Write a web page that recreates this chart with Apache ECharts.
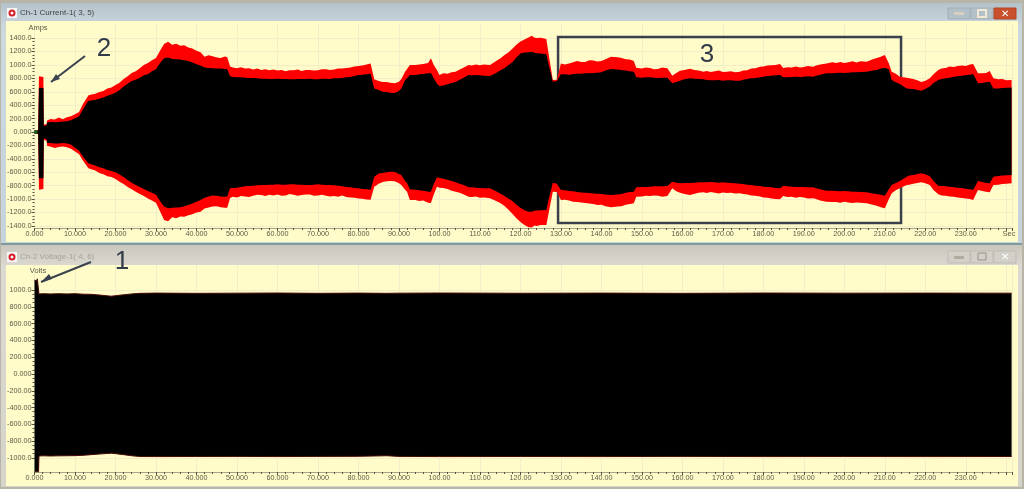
<!DOCTYPE html>
<html>
<head>
<meta charset="utf-8">
<title>Ch-1 Current / Ch-2 Voltage</title>
<script src="https://cdn.jsdelivr.net/npm/echarts@6/dist/echarts.min.js"></script>
<style>
html, body { margin: 0; padding: 0; background: #b9b5a6; }
#main { width: 1024px; height: 489px; }
</style>
</head>
<body>
<div id="main"></div>
<script>
// every line of the four current arrays lines up with the same line of currentTime
var currentTime = [
    0,0.9,1.0,1.1,1.5,2.2,2.3,3,3.1,4,
    5,6,7,8,9,10,11,12,13.3,14,
    15,16,17,18,19,20,21,22,23,24,
    25,26,27,28,29,30,31,32,33,34,
    35,36,37,38,39,40,41,42,43,44,
    45,46,47,47.6,48.3,49,50,51,52,53,
    54,55,56,57,58,59,60,61,62,63,
    64,65,66,67,68,69,70,71,72,73,
    74,75,76,77,78,79,80,81,82,83,
    83.3,83.9,85,86,87,87.8,89,90,90.6,91.5,
    92,92.7,94,95,96,97.2,97.9,98.6,99.4,100,
    101,102,103,104,105,106,107.2,108,109,110,
    111,112.5,114,115,116,117,118,119,120,121,
    122,122.8,123.5,124,125,126.4,127,128,129,130,
    131,132,133,134,135,136,137,138,139,140,
    141,142.4,144,145,146,147,148,148.6,150,151,
    152,153,154,155,156.3,157.5,158.5,159.4,160.5,161.9,
    163,164,165.2,166,167,168,169,170,171,172,
    173,174.2,175,176,177,178,179.2,180,181,182,
    183,184.1,184.9,186,187,188,189,190,191,192.3,
    193,194,195.6,197,198,199,200,201,202,203,
    204,205.5,207,208,209,210,211,211.7,212.7,213.7,
    215.4,216,217,218,219,220,221.1,222,223.2,224,
    225,226,227,228,229,230,231,231.8,233,234,
    235,235.9,236.8,238,239,240,241.3];
var currentRedUpper = [
    30,25,25,830,840,820,110,115,170,195,
    185,215,190,220,235,265,300,420,545,560,
    570,595,610,650,665,700,735,790,830,880,
    905,950,1000,1030,1070,1105,1210,1310,1345,1300,
    1315,1285,1295,1260,1245,1210,1190,1120,1145,1130,
    1110,1105,1125,1115,975,960,950,965,945,950,
    930,945,925,935,920,930,915,925,905,920,
    920,930,910,925,925,915,920,935,935,925,
    930,945,945,955,960,975,985,990,1005,1020,
    1025,785,760,745,745,735,725,750,790,900,
    940,1000,1000,1005,1015,1030,1098,1000,924,850,
    875,870,890,900,930,960,1000,990,1005,995,
    1005,1000,1060,1095,1145,1185,1240,1300,1350,1380,
    1410,1435,1405,1400,1405,1385,1150,775,780,1023,
    1005,1020,1040,1060,1045,1045,1070,1065,1050,1060,
    1085,1122,1115,1105,1085,1080,1060,958,945,960,
    955,935,940,960,950,840,880,914,925,944,
    925,915,900,910,895,905,915,895,900,905,
    890,900,915,920,945,950,974,975,990,995,
    1000,1013,954,965,960,975,960,970,985,974,
    990,1005,1023,1040,1030,1045,1030,1040,1055,1035,
    1055,1048,1085,1105,1120,1147,1023,900,870,825,
    810,800,790,770,745,765,800,860,924,945,
    955,975,970,985,990,985,1005,1013,874,875,
    880,909,800,785,790,770,775];
var currentBlackUpper = [
    25,20,20,660,665,655,90,100,140,150,
    145,150,155,160,175,205,235,340,465,470,
    480,495,515,540,560,585,625,680,720,760,
    780,810,845,860,905,935,1030,1100,1110,1090,
    1085,1080,1070,1060,1035,1010,990,960,955,950,
    945,945,940,935,830,820,815,815,810,805,
    805,800,795,795,790,790,795,790,790,785,
    785,790,790,790,795,785,785,795,795,790,
    800,800,805,815,820,835,850,855,860,870,
    875,650,625,600,595,586,580,610,650,770,
    800,850,850,860,865,875,880,800,720,686,
    695,710,730,745,780,810,850,845,850,845,
    840,835,880,915,950,995,1040,1110,1170,1185,
    1190,1195,1180,1175,1170,1160,1000,750,760,860,
    860,855,865,870,870,875,875,880,885,890,
    915,940,930,925,915,905,899,815,810,815,
    815,810,805,810,810,726,745,765,785,800,
    795,790,785,775,770,770,775,765,770,770,
    765,765,780,790,800,805,815,825,835,840,
    845,850,815,815,820,825,820,825,830,825,
    840,855,874,875,880,885,880,885,890,890,
    895,900,915,925,945,958,930,775,740,716,
    650,645,640,625,616,640,680,730,775,790,
    800,810,825,830,840,845,855,864,725,730,
    740,750,650,650,655,660,665];
var currentRedLower = [
    -30,-28,-28,-860,-870,-850,-120,-130,-205,-220,
    -240,-225,-215,-228,-250,-290,-330,-430,-540,-555,
    -575,-610,-630,-660,-670,-700,-740,-775,-820,-855,
    -890,-925,-955,-990,-1020,-1055,-1180,-1310,-1330,-1270,
    -1285,-1260,-1265,-1240,-1225,-1200,-1187,-1140,-1125,-1110,
    -1105,-1120,-1130,-1128,-985,-965,-975,-955,-960,-970,
    -950,-935,-940,-955,-935,-945,-930,-950,-945,-925,
    -935,-950,-940,-930,-930,-950,-945,-935,-950,-960,
    -955,-965,-945,-970,-975,-980,-990,-995,-1005,-1010,
    -1013,-815,-770,-745,-735,-730,-735,-765,-790,-860,
    -890,-1013,-1015,-1030,-1020,-1053,-1060,-930,-815,-830,
    -835,-850,-875,-890,-905,-930,-964,-970,-960,-980,
    -975,-988,-1030,-1060,-1100,-1155,-1220,-1285,-1340,-1385,
    -1420,-1425,-1395,-1400,-1385,-1386,-1200,-889,-895,-1013,
    -1010,-1020,-1040,-1045,-1050,-1060,-1065,-1075,-1090,-1085,
    -1105,-1122,-1110,-1105,-1085,-1075,-1063,-964,-960,-950,
    -955,-945,-950,-965,-954,-840,-885,-904,-925,-939,
    -920,-905,-899,-910,-895,-905,-915,-900,-910,-905,
    -915,-914,-925,-930,-945,-950,-960,-975,-980,-990,
    -1000,-1003,-954,-970,-965,-980,-970,-975,-990,-988,
    -1000,-1020,-1038,-1045,-1045,-1055,-1040,-1050,-1060,-1050,
    -1055,-1063,-1085,-1100,-1120,-1137,-1000,-914,-870,-840,
    -790,-785,-770,-760,-750,-765,-790,-865,-929,-945,
    -950,-960,-965,-975,-985,-990,-1000,-1013,-864,-880,
    -890,-899,-790,-785,-775,-770,-765];
var currentBlackLower = [
    -25,-22,-22,-690,-700,-690,-95,-105,-165,-165,
    -170,-170,-165,-170,-185,-235,-280,-370,-465,-480,
    -500,-525,-540,-565,-580,-600,-635,-670,-715,-755,
    -790,-820,-850,-880,-905,-935,-1030,-1110,-1135,-1130,
    -1125,-1120,-1105,-1090,-1065,-1040,-1013,-980,-960,-945,
    -950,-960,-965,-960,-840,-835,-830,-820,-810,-805,
    -800,-795,-790,-790,-785,-785,-780,-785,-785,-780,
    -780,-785,-785,-790,-790,-785,-780,-785,-790,-790,
    -795,-800,-810,-820,-825,-835,-840,-850,-855,-860,
    -864,-666,-620,-610,-600,-591,-595,-625,-641,-730,
    -760,-854,-860,-870,-875,-889,-889,-770,-675,-685,
    -695,-710,-730,-750,-770,-790,-825,-825,-830,-835,
    -840,-840,-885,-915,-950,-990,-1030,-1085,-1130,-1165,
    -1187,-1187,-1175,-1170,-1165,-1162,-1000,-755,-770,-864,
    -870,-880,-885,-895,-900,-905,-910,-915,-920,-925,
    -930,-939,-930,-925,-905,-895,-889,-825,-820,-820,
    -815,-810,-810,-810,-805,-740,-755,-765,-760,-760,
    -755,-750,-750,-750,-745,-750,-755,-750,-755,-760,
    -765,-770,-775,-785,-790,-800,-805,-815,-820,-825,
    -835,-840,-805,-810,-815,-820,-820,-820,-825,-825,
    -840,-855,-874,-875,-880,-885,-880,-885,-890,-890,
    -895,-899,-915,-925,-935,-949,-850,-790,-760,-730,
    -666,-650,-640,-625,-616,-630,-660,-730,-800,-805,
    -810,-815,-825,-830,-835,-845,-855,-864,-730,-745,
    -760,-765,-666,-655,-650,-645,-641];

var voltageTime = [0,0.3,0.5,0.7,1.0,1.1,2,4,6,8,10,12,14,16,18,19,20,22,24,26,30,40,50,60,70,80,87,90,100,120,140,160,180,200,220,241.3];
var voltageUpper = [1120,1140,1110,1135,1125,955,958,955,958,955,958,952,950,942,932,928,934,945,955,962,965,962,964,966,962,965,962,964,966,963,965,962,966,964,965,964];
var voltageLower = [-1167,-1167,-1167,-1167,-1167,-978,-976,-978,-976,-975,-974,-970,-962,-955,-948,-945,-950,-962,-975,-984,-985,-984,-983,-985,-983,-982,-975,-983,-985,-984,-985,-983,-985,-984,-985,-984];

var currentTicks = [-1400,-1200,-1000,-800,-600,-400,-200,0,200,400,600,800,1000,1200,1400];
var voltageTicks = [-1000,-800,-600,-400,-200,0,200,400,600,800,1000];
var currentSmallTicks = [];
var voltageSmallTicks = [];
for (var v = -1400; v <= 1400; v += 50) currentSmallTicks.push(v);
for (var w = -1000; w <= 1000; w += 50) voltageSmallTicks.push(w);

var uiFont = '"Liberation Sans", Arial, sans-serif';
var labelColor = '#5e5a48';
var gridColor = '#f3eec8';
var panelColor = '#fffcca';

function zip(t, vals) {
    return t.map(function (x, i) { return [x, vals[i]]; });
}
// instrument software prints 5 significant digits
function fmt(v) {
    var a = Math.abs(v);
    if (a === 0) return '0.000';
    if (a >= 1000) return v.toFixed(1);
    if (a >= 100) return v.toFixed(2);
    return v.toFixed(3);
}
function envelope(name, grid, data, color, z, line) {
    return {
        name: name,
        type: 'line',
        xAxisIndex: grid,
        yAxisIndex: grid * 2,
        data: data,
        showSymbol: false,
        silent: true,
        z: z,
        lineStyle: { color: line || color, width: line ? 1 : 0 },
        areaStyle: { color: color, opacity: 1, origin: 0 }
    };
}
function xAxisFor(grid) {
    return {
        type: 'value',
        gridIndex: grid,
        min: 0,
        max: 241.4,
        interval: 10,
        axisLine: { onZero: false, lineStyle: { color: '#a8a48c', width: 1 } },
        axisTick: { show: true, length: 3, lineStyle: { color: '#555040' } },
        minorTick: { show: true, splitNumber: 5, length: 2, lineStyle: { color: '#555040' } },
        axisLabel: {
            fontFamily: uiFont, fontSize: 7.2, color: labelColor, margin: 3,
            formatter: function (val) { return val >= 240 ? '' : fmt(val); }
        },
        splitLine: { show: true, lineStyle: { color: gridColor, width: 1 } }
    };
}
function yAxisPair(grid, min, max, ticks, small) {
    return [{
        type: 'value',
        gridIndex: grid,
        min: min,
        max: max,
        axisLine: { show: false },
        axisTick: { show: true, length: 3, customValues: ticks, lineStyle: { color: '#555040' } },
        axisLabel: { fontFamily: uiFont, fontSize: 7.2, color: labelColor, margin: 3, customValues: ticks, formatter: fmt },
        splitLine: { show: true, lineStyle: { color: gridColor, width: 1 } }
    }, {
        type: 'value',
        gridIndex: grid,
        position: 'left',
        min: min,
        max: max,
        axisLine: { show: false },
        axisTick: { show: true, length: 2, customValues: small, lineStyle: { color: '#555040' } },
        axisLabel: { show: false },
        splitLine: { show: false }
    }];
}
function winButton(x, y, w, h, fill, stroke) {
    return { type: 'rect', z: 5, shape: { x: x, y: y, width: w, height: h }, style: { fill: fill, stroke: stroke, lineWidth: 1 } };
}
function windowIcon(x, y) {
    return [
        { type: 'rect', z: 5, shape: { x: x - 5, y: y - 5, width: 10, height: 10 }, style: { fill: '#f6f6f6' } },
        { type: 'circle', z: 6, shape: { cx: x, cy: y, r: 2.5 }, style: { fill: 'none', stroke: '#d4202a', lineWidth: 2 } }
    ];
}
function label(text, x, y, size, color) {
    return { type: 'text', z: 100, x: x, y: y, style: { text: text, font: size + 'px ' + uiFont, fill: color, textVerticalAlign: 'middle', textAlign: 'center' } };
}
function arrow(x1, y1, x2, y2, h1, h2) {
    return [
        { type: 'line', z: 100, shape: { x1: x1, y1: y1, x2: x2, y2: y2 }, style: { stroke: '#39424e', lineWidth: 2 } },
        { type: 'polygon', z: 100, shape: { points: [[x2, y2], h1, h2] }, style: { fill: '#39424e' } }
    ];
}

var chrome = [
    { type: 'rect', z: -20, shape: { x: 0, y: 0, width: 1024, height: 489 }, style: { fill: '#b9b5a6' } },
    { type: 'rect', z: -19, shape: { x: 1, y: 3, width: 1021, height: 241 }, style: { fill: new echarts.graphic.LinearGradient(0, 0, 0, 1, [{ offset: 0, color: '#b4c2cb' }, { offset: 0.1, color: '#cdd8de' }, { offset: 1, color: '#c6d3dc' }]) } },
    { type: 'rect', z: -18, shape: { x: 6, y: 21, width: 1012, height: 221 }, style: { fill: panelColor } },
    { type: 'rect', z: -18, shape: { x: 1, y: 243, width: 1021, height: 2 }, style: { fill: '#7f9c9c' } },
    { type: 'rect', z: -19, shape: { x: 1, y: 245, width: 1021, height: 242 }, style: { fill: new echarts.graphic.LinearGradient(0, 0, 0, 1, [{ offset: 0, color: '#c9c6bd' }, { offset: 0.09, color: '#dbd9d1' }, { offset: 1, color: '#d6d3ca' }]) } },
    { type: 'rect', z: -18, shape: { x: 6, y: 265, width: 1012, height: 221 }, style: { fill: panelColor } },
    { type: 'text', z: 5, x: 20, y: 13, style: { text: 'Ch-1 Current-1( 3, 5)', font: '8px ' + uiFont, fill: '#3d4347', textVerticalAlign: 'middle' } },
    { type: 'text', z: 5, x: 20, y: 257, style: { text: 'Ch-2 Voltage-1( 4, 6)', font: '8px ' + uiFont, fill: '#a5a39c', textVerticalAlign: 'middle' } },
    winButton(948, 8, 22, 11, '#b4c0c7', '#a2afb7'),
    winButton(971, 8, 22, 11, '#b4c0c7', '#a2afb7'),
    winButton(994, 8, 22, 11, '#c8502c', '#b04424'),
    winButton(948, 251, 22, 12, '#d2d0c8', '#bdbbb3'),
    winButton(971, 251, 22, 12, '#d2d0c8', '#bdbbb3'),
    winButton(994, 251, 22, 12, '#d2d0c8', '#bdbbb3'),
    { type: 'rect', z: 6, shape: { x: 954, y: 12, width: 10, height: 3 }, style: { fill: '#d8cfc0' } },
    { type: 'rect', z: 6, shape: { x: 978, y: 10, width: 8, height: 7 }, style: { fill: 'none', stroke: '#f0e8d4', lineWidth: 2 } },
    label('\u2715', 1005, 14, 10, '#ffffff'),
    { type: 'rect', z: 6, shape: { x: 954, y: 256, width: 10, height: 3 }, style: { fill: '#b0aca0' } },
    { type: 'rect', z: 6, shape: { x: 978, y: 253, width: 8, height: 7 }, style: { fill: 'none', stroke: '#96948c', lineWidth: 1 } },
    label('\u2715', 1005, 257, 10, '#ffffff'),
    label('Amps', 38, 28, 7.5, labelColor),
    label('Volts', 38, 271, 7.5, labelColor),
    label('Sec', 1009, 234, 7.5, labelColor),
    label('2', 104, 49, 26, '#333c4a'),
    label('1', 122, 262, 26, '#333c4a'),
    label('3', 707, 55, 26, '#333c4a')
].concat(windowIcon(12, 13), windowIcon(12, 257),
    arrow(85, 56, 51, 82, [56, 74], [60, 79]),
    arrow(91, 262, 41, 282, [49, 274], [52, 279]));

var option = {
    animation: false,
    backgroundColor: 'transparent',
    grid: [
        { left: 34.5, right: 12, top: 24, bottom: 261 },
        { left: 34.5, right: 12, top: 265, bottom: 17 }
    ],
    graphic: chrome,
    xAxis: [xAxisFor(0), xAxisFor(1)],
    yAxis: yAxisPair(0, -1431, 1610, currentTicks, currentSmallTicks).concat(yAxisPair(1, -1169, 1300, voltageTicks, voltageSmallTicks)),
    series: [
        envelope('Current max', 0, zip(currentTime, currentRedUpper), '#ff0000', 2),
        envelope('Current min', 0, zip(currentTime, currentRedLower), '#ff0000', 2),
        envelope('Current', 0, zip(currentTime, currentBlackUpper), '#000000', 3),
        envelope('Current ', 0, zip(currentTime, currentBlackLower), '#000000', 3),
        {
            name: 'Region 3',
            type: 'line',
            xAxisIndex: 0,
            yAxisIndex: 0,
            data: [],
            z: 10,
            markArea: {
                silent: true,
                itemStyle: { color: 'transparent', borderColor: '#3a414c', borderWidth: 2.5 },
                data: [[{ coord: [129.3, 1416] }, { coord: [214, -1356] }]]
            }
        },
        {
            name: 'Start',
            type: 'scatter',
            xAxisIndex: 0,
            yAxisIndex: 0,
            data: [[0.3, 0]],
            symbolSize: 4,
            itemStyle: { color: '#1c7a30' },
            z: 9
        },
        envelope('Voltage', 1, zip(voltageTime, voltageUpper), '#000000', 3, '#4a0808'),
        envelope('Voltage ', 1, zip(voltageTime, voltageLower), '#000000', 3, '#4a0808')
    ]
};
var myChart = echarts.init(document.getElementById('main'), null, { renderer: 'canvas' });
myChart.setOption(option);
</script>
</body>
</html>
